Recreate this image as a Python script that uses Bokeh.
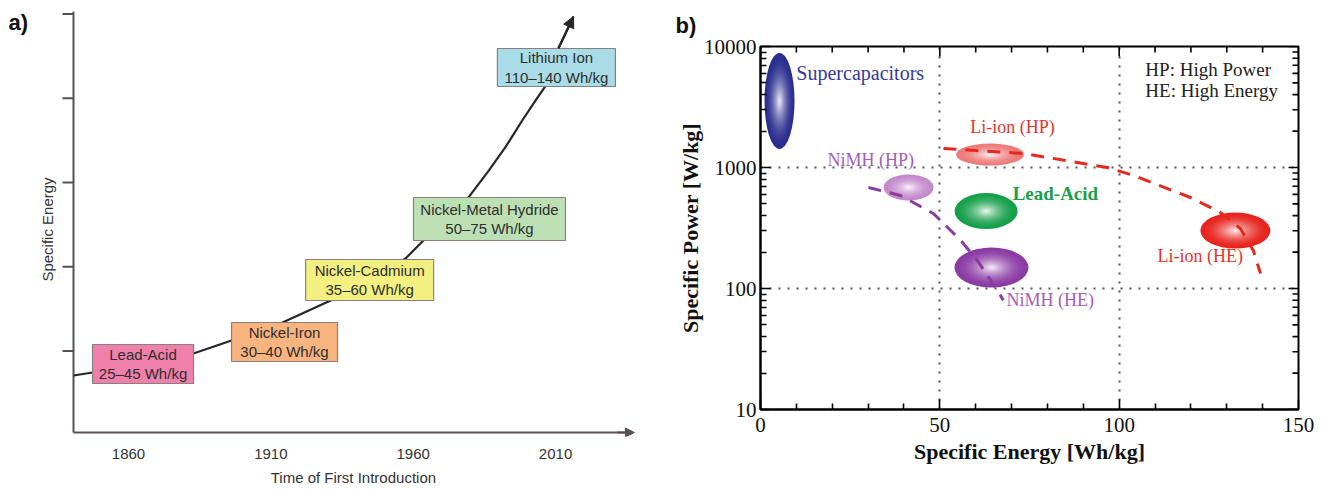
import math
from bokeh.plotting import figure
from bokeh.layouts import row
from bokeh.models import (ColumnDataSource, FixedTicker, Arrow, NormalHead, LinearAxis,
                          Range1d, PrintfTickFormatter)
from bokeh.core.properties import value
from bokeh.embed import file_html
from bokeh.resources import INLINE

# ---------------- Panel a data ----------------
battery_names = ["Lead-Acid", "Nickel-Iron", "Nickel-Cadmium", "Nickel-Metal Hydride", "Lithium Ion"]
battery_energy_ranges = ["25\u201345 Wh/kg", "30\u201340 Wh/kg", "35\u201360 Wh/kg", "50\u201375 Wh/kg", "110\u2013140 Wh/kg"]
intro_years = [1865.1, 1914.8, 1944.7, 1986.8, 2010.3]
energy_levels = [0.846, 1.107, 1.843, 2.567, 4.365]
trend_years = [1840.7, 1847.4, 1882.8, 1896.2, 1914.1, 1931.0, 1957.3, 1963.6,
               1979.5, 1986.6, 1992.4, 1998.3, 2003.0, 2006.2, 2011.0, 2016.3]
trend_levels = [0.709, 0.745, 0.970, 1.125, 1.338, 1.599, 2.098, 2.312,
                2.826, 3.143, 3.419, 3.736, 3.974, 4.131, 4.591, 4.970]
year_ticks = [1860, 1910, 1960, 2010]
energy_ticks = [1, 2, 3, 4, 5]
x_title_text = "Time of First Introduction"

# ---------------- Panel b data ----------------
store_names = ["Supercapacitors", "Li-ion (HP)", "NiMH (HP)", "Lead-Acid", "NiMH (HE)", "Li-ion (HE)"]
store_energy = [5.3, 64.0, 41.3, 62.9, 64.4, 132.4]
store_power = [3548, 1279, 684, 436, 149, 301]
label_energy = [10.0, 58.5, 18.7, 70.3, 68.6, 110.7]
label_power = [6095, 2144, 1143, 609, 79.6, 187]
liion_trend_energy = [51.0, 73.3, 96.7, 104.0, 119.9, 128.2, 133.8, 137.4, 139.4]
liion_trend_power = [1436, 1306, 1000, 859, 565, 425, 313, 206, 133]
nimh_trend_energy = [30.1, 39.0, 48.2, 55.8, 60.5, 66.1, 67.7]
nimh_trend_power = [684, 587, 417, 250, 170, 96, 80]
legend_lines = ["HP: High Power", "HE: High Energy"]
legend_energy = [107.3, 107.3]
legend_power = [6457, 4327]
energy_axis_ticks = [0, 50, 100, 150]
energy_axis_minor = [10, 20, 30, 40, 60, 70, 80, 90, 110, 120, 130, 140]
power_axis_ticks = [10, 100, 1000, 10000]
power_axis_minor = [k * 10 ** e for e in (1, 2, 3) for k in range(2, 10)]

# ---------------- styles / layout ----------------
box_px = [(101, 39), (106, 39), (128, 41), (152, 43), (118, 38)]
box_colors = ["#EF80A9", "#F8B47E", "#F3EF80", "#BCE0B4", "#A9DCE6"]
ellipse_px = [(30, 96), (68, 22), (50, 26), (63, 36), (74, 40), (70, 36)]
edge_colors = ["#2A2F8F", "#EE7A7A", "#C48ACC", "#16A04A", "#8B3BA5", "#E8241E"]
label_colors = ["#34399A", "#E8332A", "#A35DB8", "#19A04B", "#A35DB8", "#E8332A"]
label_sizes = ["20px", "18px", "18px", "19px", "18px", "18px"]
label_styles = ["normal", "normal", "normal", "bold", "normal", "normal"]
SANS = "Liberation Sans"
SERIF = "Liberation Serif"
AXIS_A = "#574f55"

# panel a axis geometry (data units of panel a)
A_AXIS_X = 1840.68      # where the vertical axis stands
A_AXIS_Y = 0.0326       # where the horizontal axis lies
A_AXIS_TOP = 5.0297
A_ARROW_END = 2037.7
A_TICK_LEN = 3.864      # 11 px in years
A_TITLE_X = 1939        # centre of the x-axis title

# ================= Panel a =================
pa = figure(width=660, height=491, x_range=Range1d(1815.74, 2039.84), y_range=Range1d(-0.0148, 5.0653),
            output_backend="svg", toolbar_location=None,
            min_border_left=2, min_border_right=20, min_border_top=8, min_border_bottom=55)
pa.frame_align = False
pa.outline_line_color = None
pa.grid.visible = False
pa.yaxis.visible = False

xa = pa.xaxis[0]
xa.ticker = FixedTicker(ticks=year_ticks, minor_ticks=[])
xa.major_tick_in = 0
xa.major_tick_out = 0
xa.axis_line_color = None
xa.major_label_text_font = SANS
xa.major_label_text_font_size = "15px"
xa.major_label_text_color = "#333333"
xa.major_label_standoff = 12

# x-axis title as an axis of its own, so that it can sit off-centre like the reference
title_ax = LinearAxis(ticker=FixedTicker(ticks=[A_TITLE_X], minor_ticks=[]),
                      major_label_overrides={A_TITLE_X: x_title_text},
                      axis_line_color=None, major_tick_in=0, major_tick_out=0,
                      major_label_standoff=7, major_label_text_font=SANS,
                      major_label_text_font_size="15px", major_label_text_color="#333333")
pa.add_layout(title_ax, "below")

# axes drawn as lines
pa.segment(x0=[A_AXIS_X], y0=[A_AXIS_Y], x1=[A_AXIS_X], y1=[A_AXIS_TOP], line_color=AXIS_A, line_width=2)
pa.segment(x0=[A_AXIS_X], y0=[A_AXIS_Y], x1=[A_ARROW_END - 3], y1=[A_AXIS_Y], line_color=AXIS_A, line_width=2)
pa.segment(x0=[A_AXIS_X - A_TICK_LEN] * len(energy_ticks), y0=energy_ticks,
           x1=[A_AXIS_X] * len(energy_ticks), y1=energy_ticks, line_color=AXIS_A, line_width=2)
pa.add_layout(Arrow(end=NormalHead(size=9, fill_color=AXIS_A, line_color=AXIS_A),
                    x_start=A_ARROW_END - 6, y_start=A_AXIS_Y,
                    x_end=A_ARROW_END, y_end=A_AXIS_Y,
                    line_color=AXIS_A, line_width=2))

# trend curve
pa.line(trend_years, trend_levels, line_color="#262626", line_width=2.2, line_join="round")
pa.add_layout(Arrow(end=NormalHead(size=11, fill_color="#262626", line_color="#262626"),
                    x_start=trend_years[-2], y_start=trend_levels[-2],
                    x_end=trend_years[-1], y_end=trend_levels[-1],
                    line_color="#262626", line_width=2.2))

box_src = ColumnDataSource(dict(
    x=intro_years, y=energy_levels,
    w=[b[0] for b in box_px], h=[b[1] for b in box_px],
    c=box_colors,
    t=[n + "\n" + r for n, r in zip(battery_names, battery_energy_ranges)],
))
pa.rect(x="x", y="y", width="w", height="h", width_units="screen", height_units="screen",
        fill_color="c", line_color="#8a7f80", line_width=1.2, source=box_src)
pa.text(x="x", y="y", text="t", source=box_src, text_align="center", text_baseline="middle",
        text_font=value(SANS), text_font_size="15px", text_color="#2e2e2e", text_line_height=1.15)

# y axis title and panel tag as text
pa.text(x=[1831.55], y=[2.442], text=["Specific Energy"], angle=math.pi / 2,
        text_align="center", text_baseline="middle", text_font=value(SANS),
        text_font_size="15px", text_color="#333333")
pa.text(x=[1817.85], y=[4.905], text=["a)"], text_align="left", text_baseline="middle",
        text_font=value(SANS), text_font_size="22px", text_font_style="bold", text_color="#111111")

# ================= Panel b =================
pb = figure(width=664, height=491, x_range=Range1d(0, 150), y_range=Range1d(10, 10000),
            y_axis_type="log", output_backend="svg", toolbar_location=None,
            min_border_left=100, min_border_right=26, min_border_top=46, min_border_bottom=82)
pb.frame_align = False
pb.outline_line_color = "black"
pb.outline_line_width = 2
pb.title.text = "b)"
pb.title.align = "left"
pb.title.offset = -85
pb.title.standoff = 18
pb.title.text_font = SANS
pb.title.text_font_size = "22px"
pb.title.text_font_style = "bold"
pb.title.text_color = "#111111"

xb = pb.xaxis[0]
yb = pb.yaxis[0]
for ax, tk, mn in ((xb, energy_axis_ticks, energy_axis_minor), (yb, power_axis_ticks, power_axis_minor)):
    ax.ticker = FixedTicker(ticks=tk, minor_ticks=mn)
    ax.axis_line_color = "black"
    ax.axis_line_width = 2
    ax.major_tick_in = 10
    ax.major_tick_out = 0
    ax.minor_tick_in = 6
    ax.minor_tick_out = 0
    ax.major_tick_line_width = 1.6
    ax.minor_tick_line_width = 1.6
    ax.major_tick_line_color = "black"
    ax.minor_tick_line_color = "black"
    ax.major_label_text_font = SERIF
    ax.major_label_text_font_size = "21px"
    ax.major_label_text_color = "#111111"
    ax.axis_label_text_font = SERIF
    ax.axis_label_text_font_size = "22px"
    ax.axis_label_text_font_style = "bold"
    ax.axis_label_text_color = "#111111"
yb.formatter = PrintfTickFormatter(format="%d")
xb.axis_label = "Specific Energy [Wh/kg]"
yb.axis_label = "Specific Power [W/kg]"
xb.major_label_standoff = 8
xb.axis_label_standoff = 4
yb.major_label_standoff = 4
yb.axis_label_standoff = -2

# mirrored ticks on top and right spines (half clipped by the frame -> inward ticks)
y_top = pb.y_range.end
x_right = pb.x_range.end
pb.scatter(x=energy_axis_ticks, y=[y_top] * len(energy_axis_ticks), marker="dash", size=20,
           angle=math.pi / 2, line_color="black", line_width=1.6)
pb.scatter(x=energy_axis_minor, y=[y_top] * len(energy_axis_minor), marker="dash", size=12,
           angle=math.pi / 2, line_color="black", line_width=1.6)
pb.scatter(x=[x_right] * len(power_axis_ticks), y=power_axis_ticks, marker="dash", size=20,
           line_color="black", line_width=1.6)
pb.scatter(x=[x_right] * len(power_axis_minor), y=power_axis_minor, marker="dash", size=12,
           line_color="black", line_width=1.6)

pb.xgrid.ticker = FixedTicker(ticks=energy_axis_ticks)
pb.ygrid.ticker = FixedTicker(ticks=power_axis_ticks)
for g in (pb.xgrid, pb.ygrid):
    g.grid_line_color = "#555555"
    g.grid_line_width = 2
    g.grid_line_dash = "2 7"


def mix(c, t):
    r, g, b = int(c[1:3], 16), int(c[3:5], 16), int(c[5:7], 16)
    return "#{:02x}{:02x}{:02x}".format(int(r + (255 - r) * t), int(g + (255 - g) * t), int(b + (255 - b) * t))


N_LAYERS = 20
layers = dict(x=[], y=[], w=[], h=[], c=[])
for k in range(N_LAYERS):
    s = 1 - k / N_LAYERS
    t = (1 - s) ** 1.8
    for i in range(len(store_names)):
        layers["x"].append(store_energy[i])
        layers["y"].append(store_power[i])
        layers["w"].append(ellipse_px[i][0] * s)
        layers["h"].append(ellipse_px[i][1] * s)
        layers["c"].append(mix(edge_colors[i], 0.97 * t))
pb.ellipse(x="x", y="y", width="w", height="h", width_units="screen", height_units="screen",
           fill_color="c", line_color=None, source=ColumnDataSource(layers))

pb.line(liion_trend_energy, liion_trend_power, line_color="#E8281F", line_width=3, line_dash="13 9")
pb.line(nimh_trend_energy, nimh_trend_power, line_color="#8B3BA0", line_width=3, line_dash="13 9")

pb.text(x="x", y="y", text="t", source=ColumnDataSource(dict(
            x=label_energy, y=label_power, t=store_names, c=label_colors,
            fs=label_sizes, st=label_styles)),
        text_color="c", text_font_size="fs", text_font_style="st",
        text_font=value(SERIF), text_align="left", text_baseline="middle")
pb.text(x=legend_energy, y=legend_power, text=legend_lines, text_color="#222222",
        text_font=value(SERIF), text_font_size="19px", text_align="left", text_baseline="middle")

layout = row(pa, pb)
open("out.html", "w").write(file_html(layout, INLINE))
